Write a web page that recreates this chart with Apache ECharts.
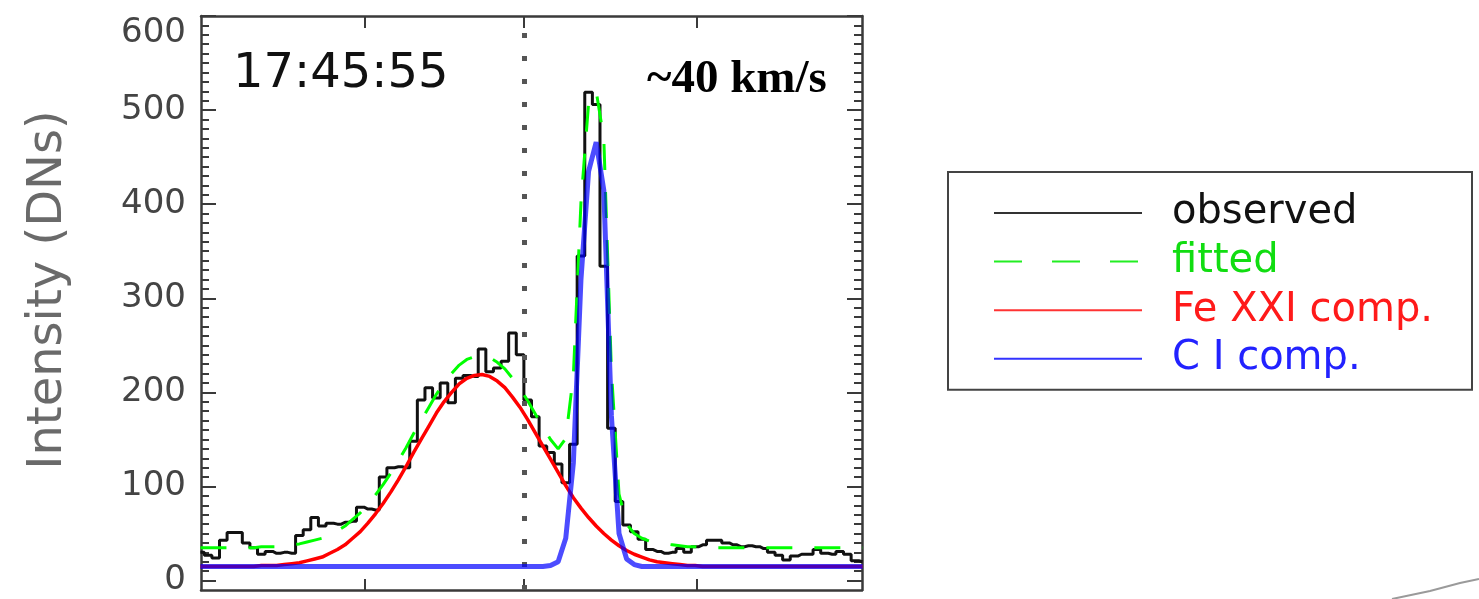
<!DOCTYPE html>
<html>
<head>
<meta charset="utf-8">
<script src="https://cdn.jsdelivr.net/npm/echarts@6/dist/echarts.min.js"></script>
<style>
html,body{margin:0;padding:0;background:#ffffff;}
#chart{width:1479px;height:599px;}
</style>
</head>
<body>
<div id="chart"></div>
<script>
// ---- data (velocity bins in km/s, intensities in DNs) ----
const binWidth = 7;
const firstBinCenter = -297.5;
const observed = [30,27,24,43,51,51,40,35,28,31,
  29,30,29,48,54,67,58,61,60,62,
  63,78,76,75,110,120,121,120,148,192,
  205,194,210,189,215,218,217,246,222,226,
  233,263,240,192,174,143,136,124,104,145,
  345,519,506,334,162,84,59,52,44,33,
  31,29,30,34,30,36,38,43,43,40,
  38,36,37,36,34,30,27,22,26,28,
  28,33,29,28,31,28,21,20];
const fitted = [35,35,35,35,35,35,35,35,36,36,
  36,37,38,39,41,43,45,49,53,58,
  65,72,81,91,102,114,127,141,156,170,
  184,198,210,220,229,235,238,239,237,232,
  225,215,204,191,177,163,150,140,151,218,
  402,507,520,470,223,92,60,50,45,42,
  40,39,38,37,36,36,35,35,35,35,
  35,35,35,35,35,35,35,35,35,35,
  35,35,35,35,35,35,35,35];
const feXXI = [15,15,15,15,15,15,15,15,16,16,
  16,17,18,19,21,23,25,29,33,38,
  45,52,61,71,82,94,107,121,136,150,
  164,178,190,200,209,215,218,219,217,212,
  205,195,184,171,157,143,129,115,101,88,
  77,67,58,50,43,37,32,28,25,22,
  20,19,18,17,16,16,15,15,15,15,
  15,15,15,15,15,15,15,15,15,15,
  15,15,15,15,15,15,15,15];
const cI = [15,15,15,15,15,15,15,15,15,15,
  15,15,15,15,15,15,15,15,15,15,
  15,15,15,15,15,15,15,15,15,15,
  15,15,15,15,15,15,15,15,15,15,
  15,15,15,15,15,15,16,20,45,125,
  320,435,466,415,175,50,23,17,15,15,
  15,15,15,15,15,15,15,15,15,15,
  15,15,15,15,15,15,15,15,15,15,
  15,15,15,15,15,15,15,15];
const restVelocity = 0;
const xTicks = [-146, 0, 159];
const yTickValues = [0,100,200,300,400,500,600];
const yTickLabels = ['0','100','200','300','400','500','600'];
const seriesNames = ['observed','fitted','Fe XXI comp.','C I comp.'];
const timeLabel = '17:45:55';
const shiftLabel = '~40 km/s';
const yTitle = 'Intensity (DNs)';

// ---- chart ----
const toPairs = arr => arr.map((v, i) => [firstBinCenter + i * binWidth, v]);
const yMinorTicks = [];
for (let v = 10; v < 600; v += 10) { if (v % 100 !== 0) yMinorTicks.push(v); }

const axisColor = '#3a3a3a';
const fontSans = '"DejaVu Sans", sans-serif';

function xAxisDef(pos, len) {
  return {
    type: 'value', position: pos, min: -297, max: 311,
    splitLine: {show: false}, axisLabel: {show: false},
    axisLine: {show: true, onZero: false, lineStyle: {color: axisColor, width: 2.5}},
    axisTick: {show: true, inside: true, length: len, customValues: xTicks,
      lineStyle: {color: axisColor, width: 2}}
  };
}
function yAxisDef(pos, major, showLine) {
  return {
    type: 'value', position: pos, min: -10, max: 600,
    splitLine: {show: false},
    axisLine: {show: showLine, onZero: false, lineStyle: {color: axisColor, width: 2.5}},
    axisTick: {show: true, inside: true, length: major ? 15 : 8,
      customValues: major ? yTickValues : yMinorTicks,
      lineStyle: {color: axisColor, width: 2}},
    axisLabel: {show: false}
  };
}

const yLeft = yAxisDef('left', true, true);
yLeft.axisLabel = {
  show: true, customValues: yTickValues,
  formatter: v => yTickLabels[yTickValues.indexOf(v)],
  margin: 15, fontSize: 34, fontFamily: fontSans, color: '#444',
  verticalAlignMaxLabel: 'top'
};
yLeft.name = yTitle;
yLeft.nameLocation = 'middle';
yLeft.nameRotate = 90;
yLeft.nameGap = 128;
yLeft.nameTextStyle = {fontSize: 48, fontFamily: fontSans, color: '#6a6a6a', padding: [0, 0, 0, 26]};

const hiddenSymbol = {color: 'rgba(0,0,0,0)', borderWidth: 0, opacity: 0};

const chart = echarts.init(document.getElementById('chart'), null, {renderer: 'canvas'});
chart.setOption({
  animation: false,
  backgroundColor: '#ffffff',
  grid: {left: 201, right: 617, top: 16, bottom: 9, containLabel: false},
  xAxis: [xAxisDef('bottom', 11), xAxisDef('top', 12)],
  yAxis: [yLeft, yAxisDef('left', false, false), yAxisDef('right', true, true), yAxisDef('right', false, false)],
  legend: {
    orient: 'vertical', left: 948, top: 172,
    padding: [21, 39, 11, 45],
    borderColor: '#444', borderWidth: 2,
    itemWidth: 148, itemHeight: 14, itemGap: 8.6,
    selectedMode: false,
    itemStyle: hiddenSymbol,
    textStyle: {fontSize: 40, fontFamily: fontSans, lineHeight: 40, padding: [0, 0, 0, 25]},
    data: [
      {name: seriesNames[0], itemStyle: hiddenSymbol, textStyle: {color: '#111'}, lineStyle: {width: 2, color: '#333', type: 'solid'}},
      {name: seriesNames[1], itemStyle: hiddenSymbol, textStyle: {color: '#11dd11'}, lineStyle: {width: 2, color: '#22ee22', type: [28, 30]}},
      {name: seriesNames[2], itemStyle: hiddenSymbol, textStyle: {color: '#ff1a1a'}, lineStyle: {width: 2, color: '#ff3333', type: 'solid'}},
      {name: seriesNames[3], itemStyle: hiddenSymbol, textStyle: {color: '#2222ff'}, lineStyle: {width: 2, color: '#3333ff', type: 'solid', opacity: 1}}
    ]
  },
  series: [
    {
      name: seriesNames[0], type: 'line', step: 'middle', data: toPairs(observed),
      symbol: 'none', showSymbol: false, z: 2,
      lineStyle: {color: '#111', width: 3}, itemStyle: {color: '#111'},
      markLine: {
        silent: true, symbol: ['none', 'none'], label: {show: false},
        lineStyle: {color: '#555', width: 5, type: [5, 18]},
        data: [{xAxis: restVelocity}]
      }
    },
    {
      name: seriesNames[1], type: 'line', data: toPairs(fitted),
      symbol: 'none', showSymbol: false, z: 3,
      lineStyle: {color: '#00ff00', width: 3, type: [26, 22]}, itemStyle: {color: '#00ff00'}
    },
    {
      name: seriesNames[2], type: 'line', data: toPairs(feXXI),
      symbol: 'none', showSymbol: false, z: 4,
      lineStyle: {color: '#ff0000', width: 3.5}, itemStyle: {color: '#ff0000'}
    },
    {
      name: seriesNames[3], type: 'line', data: toPairs(cI),
      symbol: 'none', showSymbol: false, z: 5,
      lineStyle: {color: '#0000ff', width: 5, opacity: 0.7}, itemStyle: {color: '#0000ff'}
    }
  ],
  graphic: [
    {type: 'text', x: 233, y: 75, silent: true,
      style: {text: timeLabel, font: '48px "DejaVu Sans"', fill: '#111', align: 'left', verticalAlign: 'middle'}},
    {type: 'text', x: 647, y: 80, silent: true,
      style: {text: shiftLabel, font: 'bold 47px "Liberation Serif"', fill: '#000', align: 'left', verticalAlign: 'middle'}},
    {type: 'polyline', silent: true,
      shape: {points: [[1392, 599], [1430, 591], [1460, 583], [1479, 579]]},
      style: {stroke: '#9a9a9a', lineWidth: 2, fill: null}}
  ]
});
</script>
</body>
</html>
